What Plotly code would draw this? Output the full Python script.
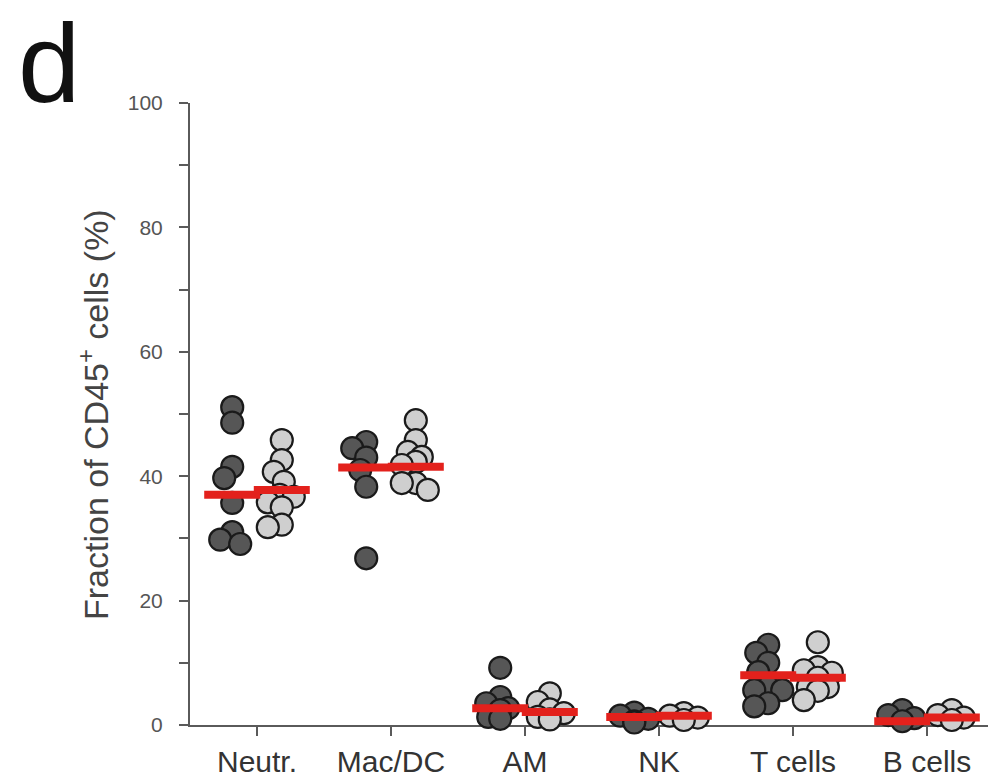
import plotly.graph_objects as go

categories = ["Neutr.", "Mac/DC", "AM", "NK", "T cells", "B cells"]

dark_values = [
    [51.1, 48.6, 41.5, 39.7, 35.7, 31.0, 29.8, 29.1],
    [45.5, 44.5, 43.0, 41.0, 38.3, 26.8],
    [9.2, 4.5, 3.5, 2.7, 2.4, 1.3, 1.0],
    [2.0, 1.5, 1.0, 0.6, 0.4],
    [12.9, 11.6, 10.0, 8.5, 6.1, 5.6, 5.6, 3.5, 3.0],
    [2.4, 1.6, 1.1, 0.6],
]
light_values = [
    [45.8, 42.6, 40.7, 39.1, 37.0, 36.7, 35.8, 35.0, 32.2, 31.8],
    [49.0, 45.8, 43.9, 43.1, 42.3, 41.8, 38.9, 38.9, 37.8],
    [5.1, 3.7, 2.5, 1.9, 1.3, 0.9],
    [1.9, 1.5, 1.2, 0.8],
    [13.3, 9.3, 8.8, 8.4, 7.6, 6.1, 6.1, 5.5, 4.0],
    [2.4, 1.6, 1.2, 0.8],
]
dark_medians = [37.0, 41.4, 2.7, 1.3, 8.0, 0.6]
light_medians = [37.8, 41.5, 2.1, 1.5, 7.6, 1.2]

y_ticks = [0, 20, 40, 60, 80, 100]

# layout geometry (pixels)
W, H = 988, 780
ML, MR, MT, MB = 190, 0, 103, 55
XR = (-0.5, 5.455)
YR = (0, 100)
px_x = (W - ML - MR) / (XR[1] - XR[0])
px_y = (H - MT - MB) / (YR[1] - YR[0])
MSIZE = 22
GROUP_SHIFT = 0.185
MAX_SPREAD = 14  # px


def swarm(values, diameter=MSIZE, overlap=0.62):
    """Deterministic compact beeswarm; crowded points stack at the centre."""
    placed = []
    offs = [0.0] * len(values)
    order = sorted(range(len(values)), key=lambda i: -values[i])
    cands = sorted([k * 2.0 for k in range(-MAX_SPREAD // 2, MAX_SPREAD // 2 + 1)],
                   key=lambda d: (abs(d), d))
    lim = (overlap * diameter) ** 2
    for i in order:
        yp = values[i] * px_y
        chosen = 0.0
        for dx in cands:
            if all((dx - px) ** 2 + (yp - py) ** 2 >= lim for px, py in placed):
                chosen = dx
                break
        placed.append((chosen, yp))
        offs[i] = chosen / px_x
    return offs


fig = go.Figure()


def add_group(values_list, shift, fill):
    xs, ys = [], []
    for ci, vals in enumerate(values_list):
        offs = swarm(vals)
        for v, o in zip(vals, offs):
            xs.append(ci + shift + o)
            ys.append(v)
    fig.add_trace(go.Scatter(
        x=xs, y=ys, mode="markers", cliponaxis=False, showlegend=False,
        marker=dict(size=MSIZE, color=fill, line=dict(color="#1a1a1a", width=2.2)),
    ))


add_group(dark_values, -GROUP_SHIFT, "#565656")
add_group(light_values, GROUP_SHIFT, "#cfcfcf")

for meds, shift in ((dark_medians, -GROUP_SHIFT), (light_medians, GROUP_SHIFT)):
    fig.add_trace(go.Scatter(
        x=[i + shift for i in range(len(meds))], y=meds, mode="markers",
        cliponaxis=False, showlegend=False,
        marker=dict(symbol="line-ew", size=40, line=dict(color="#e3211c", width=8)),
    ))

font_family = "Liberation Sans, Arial, Helvetica, sans-serif"

fig.update_layout(
    width=W, height=H,
    margin=dict(l=ML, r=MR, t=MT, b=MB, pad=0),
    paper_bgcolor="white", plot_bgcolor="white",
    font=dict(family=font_family),
    xaxis=dict(
        range=list(XR), tickvals=list(range(len(categories))), ticktext=categories,
        showgrid=False, zeroline=False, showline=True, linecolor="#5a5a5a", linewidth=2,
        ticks="outside", ticklen=9, tickwidth=2, tickcolor="#5a5a5a",
        tickfont=dict(size=30, color="#333333"), ticklabelstandoff=0, layer="below traces",
    ),
    yaxis=dict(
        range=list(YR), tickvals=y_ticks,
        showgrid=False, zeroline=False, showline=True, linecolor="#5a5a5a", linewidth=2,
        ticks="outside", ticklen=9, tickwidth=2, tickcolor="#5a5a5a",
        minor=dict(dtick=10, ticks="outside", ticklen=9, tickwidth=2, tickcolor="#5a5a5a", showgrid=False),
        tickfont=dict(size=21, color="#555555"), ticklabelstandoff=12, layer="below traces",
    ),
    annotations=[
        dict(text="Fraction of CD45<sup>+</sup> cells (%)", textangle=-90,
             xref="paper", yref="paper", x=(93 - ML) / (W - ML - MR), y=(H - MB - 415) / (H - MT - MB),
             xanchor="center", yanchor="middle", showarrow=False,
             font=dict(size=34, color="#444444")),
        dict(text="d", xref="paper", yref="paper",
             x=(17 - ML) / (W - ML - MR), y=(H - MB) / (H - MT - MB),
             xanchor="left", yanchor="top", showarrow=False, borderpad=0,
             font=dict(size=112, color="#111111")),
    ],
)

fig.write_html("out.html")
